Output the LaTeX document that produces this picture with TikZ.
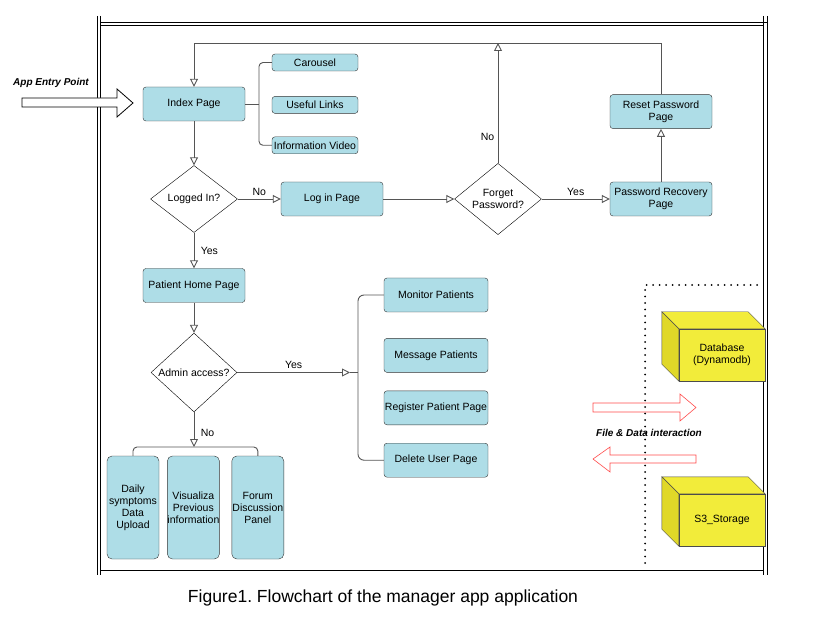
\documentclass[tikz,border=0pt]{standalone}
\usepackage{fontspec}
\setmainfont{Liberation Sans}
\usetikzlibrary{positioning}
\usetikzlibrary{shapes.geometric}
\usetikzlibrary{arrows.meta}
\definecolor{pagefill}{RGB}{174,221,231}
\definecolor{storefill}{RGB}{242,236,58}
\definecolor{storeside}{RGB}{224,216,40}
\definecolor{flowgray}{RGB}{85,85,85}

\begin{document}
\begin{tikzpicture}[x=1pt, y=-1pt, font=\fontsize{10.5}{12}\selectfont,
			page/.style={draw=black!80, fill=pagefill, rounded corners=3pt, inner sep=0pt, minimum width=102pt, minimum height=34pt, align=center},
			sub/.style={page, minimum width=86pt, minimum height=17pt},
			adminbox/.style={page, minimum width=104pt},
			tall/.style={page, minimum width=52pt, minimum height=103pt, rounded corners=5pt},
			choice/.style={diamond, draw=black, fill=white, inner sep=0pt, minimum width=87pt, minimum height=67pt, align=center},
			store/.style={draw=black!70, fill=storefill, inner sep=0pt, minimum width=86pt, minimum height=52pt, align=center},
			flow/.style={draw=flowgray, line width=0.9pt, -{Triangle[open, length=8pt, width=8pt]}},
			link/.style={draw=flowgray, line width=0.9pt},
			bigarrow/.style={draw=black, line width=0.8pt, fill=white},
			xchange/.style={draw=red!70, line width=0.6pt, fill=white}]
			\useasboundingbox (0,0) rectangle (832,617);
			\draw[line width=0.9pt] (97,16) -- (97,575) (100,16) -- (100,575);
			\draw[line width=0.9pt] (100,22) -- (767,22) (100,25) -- (763,25);
			\draw[line width=0.9pt] (763,16) -- (763,575) (767,16) -- (767,575);
			\draw[line width=0.9pt] (100,570) -- (763,570);
			\node[font=\fontsize{10}{12}\selectfont\bfseries\itshape] (entry) at (51,83) {App Entry Point};
			\draw[bigarrow] (22,98) -- (117,98) -- (117,89) -- (133,103) -- (117,117) -- (117,107) -- (22,107) -- cycle;
			\node[page] (index) at (194,104) {Index Page};
			\node[sub] (carousel) at (315,62.5) {Carousel};
			\node[sub, below=25pt of carousel] (links) {Useful Links};
			\node[sub, below=23pt of links] (video) {Information Video};
			\node[choice] (logged) at (194,199) {Logged In?};
			\node[page] (login) at (332,199) {Log in Page};
			\node[choice] (forget) at (498,199) {Forget\\Password?};
			\node[page] (recovery) at (661,199) {Password Recovery\\Page};
			\node[page, above=53pt of recovery] (reset) {Reset Password\\Page};
			\node[page] (home) at (194,285.5) {Patient Home Page};
			\node[choice, minimum width=86pt, minimum height=69pt] (admin) at (194,372.5) {Admin access?};
			\node[adminbox] (monitor) at (436,295) {Monitor Patients};
			\node[adminbox, below=26pt of monitor] (message) {Message Patients};
			\node[adminbox, below=18pt of message] (register) {Register Patient Page};
			\node[adminbox, below=18pt of register] (delete) {Delete User Page};
			\node[tall] (daily) at (133,507.5) {Daily\\symptoms\\Data\\Upload};
			\node[tall, right=8pt of daily] (visual) {Visualiza\\Previous\\information};
			\node[tall, right=12pt of visual] (forum) {Forum\\Discussion\\Panel};
			\coordinate (ceiling) at (0,43);
			\coordinate (indexbrace) at (259,104);
			\coordinate (fork) at (350,372.5);
			\coordinate (adminbrace) at (358,372.5);
			\coordinate (splitpoint) at (194,447);
			\draw[link] (index.east) -- (indexbrace);
			\draw[link, rounded corners=4pt] (carousel.west) -| (indexbrace) |- (video.west);
			\draw[flow] (index.south) -- (logged.north);
			\draw[flow] (logged.east) -- node[above]{No} (login.west);
			\draw[flow] (login.east) -- (forget.west);
			\draw[flow] (forget.east) -- node[above]{Yes} (recovery.west);
			\draw[flow] (recovery.north) -- (reset.south);
			\draw[flow] (reset.north) |- (index.north |- ceiling) -- (index.north);
			\draw[flow] (forget.north) -- node[pos=0.22, left]{No} (forget.north |- ceiling);
			\draw[flow] (logged.south) -- node[right, xshift=3pt]{Yes} (home.north);
			\draw[flow] (home.south) -- (admin.north);
			\draw[flow] (admin.east) -- node[above]{Yes} (fork);
			\draw[link] (fork) -- (adminbrace);
			\draw[link, rounded corners=6pt] (monitor.west) -| (adminbrace) |- (delete.west);
			\draw[flow] (admin.south) -- node[pos=0.6, right, xshift=3pt]{No} (splitpoint);
			\draw[link, rounded corners=4pt] (daily.north) |- (splitpoint) -| (forum.north);
			\node[store] (db) at (722,355) {Database\\(Dynamodb)};
			\draw[draw=black!70, fill=storefill] (db.north west) -- ++(-17,-17) -- ([shift={(-17,-17)}]db.north east) -- (db.north east) -- cycle;
			\draw[draw=black!70, fill=storeside] (db.north west) -- ++(-17,-17) -- ([shift={(-17,-17)}]db.south west) -- (db.south west) -- cycle;
			\node[store] (s3) at (722,520) {S3\_Storage};
			\draw[draw=black!70, fill=storefill] (s3.north west) -- ++(-17,-17) -- ([shift={(-17,-17)}]s3.north east) -- (s3.north east) -- cycle;
			\draw[draw=black!70, fill=storeside] (s3.north west) -- ++(-17,-17) -- ([shift={(-17,-17)}]s3.south west) -- (s3.south west) -- cycle;
			\draw[xchange] (593,403) -- (680,403) -- (680,394) -- (696,407.5) -- (680,421) -- (680,412) -- (593,412) -- cycle;
			\draw[xchange] (696,455) -- (610,455) -- (610,447) -- (593,459) -- (610,472) -- (610,463) -- (696,463) -- cycle;
			\node[font=\fontsize{10}{12}\selectfont\bfseries\itshape] (interact) at (649,433) {File \& Data interaction};
			\draw[line width=2pt, line cap=round, dash pattern=on 0pt off 6.5pt] (645,563) -- (645,285) -- (763,285);
			\node[font=\fontsize{17.5}{20}\selectfont] (caption) at (383,598) {Figure1.\ Flowchart of the manager app application};
	\end{tikzpicture}
\end{document}
